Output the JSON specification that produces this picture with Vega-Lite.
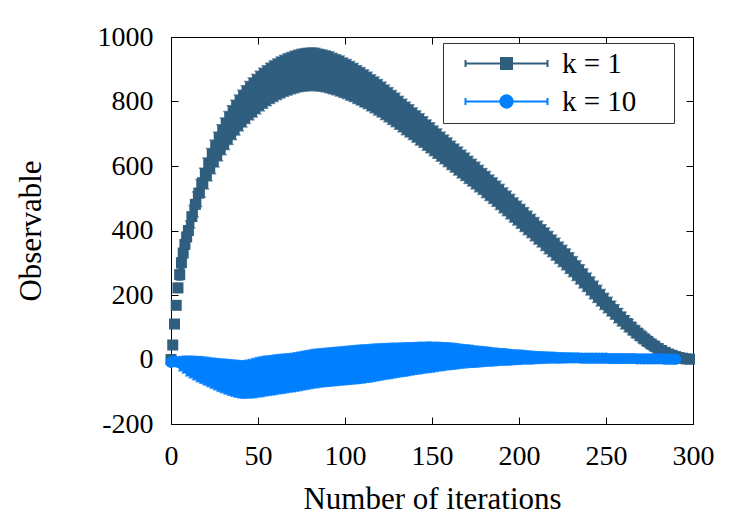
{
"$schema":"https://vega.github.io/schema/vega-lite/v6.json",
"width":522,"height":387,
"autosize":"none",
"padding":{"left":171,"top":37,"right":57,"bottom":101},
"background":"white",
"config":{
 "font":"Liberation Serif",
 "view":{"stroke":"black","strokeWidth":1},
 "axis":{"labelFont":"Liberation Serif","labelFontSize":28,"labelColor":"black","titleFont":"Liberation Serif","titleFontSize":31,"titleFontWeight":"normal","titleColor":"black","grid":false,"domain":false,"tickColor":"black","tickWidth":1,"labelFlush":false,"labelOverlap":false,"labelExpr":"'' + datum.value"},
 "legend":{"orient":"none","legendX":272,"legendY":6,"symbolSize":400,"symbolStrokeWidth":2,"labelFont":"Liberation Serif","labelFontSize":29,"labelColor":"black","labelBaseline":"middle","strokeColor":"#333333","fillColor":"white","padding":6,"rowPadding":8,"symbolOffset":43,"labelOffset":41,"cornerRadius":0,"titleOrient":"right","titlePadding":32,"titleFontSize":10}
},
"datasets":{
"k1":[
{"i":0,"m":0,"lo":-2,"hi":2},{"i":1,"m":45,"lo":40,"hi":50},{"i":2,"m":110,"lo":102,"hi":118},{"i":3,"m":168,"lo":157,"hi":179},{"i":4,"m":222,"lo":208,"hi":236},{"i":5,"m":263,"lo":246,"hi":280},{"i":6,"m":300,"lo":280,"hi":320},{"i":7,"m":330,"lo":307,"hi":353},{"i":8,"m":357,"lo":331,"hi":383},{"i":9,"m":380,"lo":352,"hi":408},{"i":10,"m":400,"lo":370,"hi":430},
{"i":12,"m":443,"lo":408,"hi":478},{"i":14,"m":481,"lo":442,"hi":520},{"i":16,"m":516,"lo":474,"hi":558},{"i":18,"m":548,"lo":503,"hi":593},{"i":20,"m":577,"lo":529,"hi":625},{"i":22,"m":604,"lo":554,"hi":654},{"i":24,"m":628,"lo":576,"hi":680},{"i":26,"m":651,"lo":597,"hi":705},{"i":28,"m":672,"lo":616,"hi":728},{"i":30,"m":692,"lo":635,"hi":749},
{"i":32,"m":710,"lo":651,"hi":769},{"i":34,"m":727,"lo":667,"hi":787},{"i":36,"m":743,"lo":682,"hi":804},{"i":38,"m":758,"lo":696,"hi":820},{"i":40,"m":772,"lo":709,"hi":835},{"i":42,"m":785,"lo":721,"hi":849},{"i":44,"m":797,"lo":732,"hi":862},{"i":46,"m":808,"lo":743,"hi":873},{"i":48,"m":818,"lo":752,"hi":884},{"i":50,"m":828,"lo":762,"hi":894},
{"i":52,"m":837,"lo":771,"hi":903},{"i":54,"m":845,"lo":779,"hi":911},{"i":56,"m":853,"lo":787,"hi":919},{"i":58,"m":860,"lo":794,"hi":926},{"i":60,"m":866,"lo":800,"hi":932},{"i":62,"m":872,"lo":806,"hi":938},{"i":64,"m":877,"lo":811,"hi":943},{"i":66,"m":882,"lo":816,"hi":948},{"i":68,"m":886,"lo":820,"hi":952},{"i":70,"m":890,"lo":824,"hi":956},
{"i":72,"m":893,"lo":827,"hi":959},{"i":74,"m":896,"lo":830,"hi":962},{"i":76,"m":898,"lo":832,"hi":964},{"i":78,"m":899,"lo":833,"hi":965},{"i":80,"m":900,"lo":834,"hi":966},{"i":82,"m":900,"lo":834,"hi":966},{"i":84,"m":899,"lo":833,"hi":965},{"i":86,"m":897,"lo":832,"hi":962},{"i":88,"m":895,"lo":830,"hi":960},{"i":90,"m":892,"lo":827,"hi":957},
{"i":92,"m":889,"lo":824,"hi":954},{"i":94,"m":885,"lo":821,"hi":949},{"i":96,"m":881,"lo":817,"hi":945},{"i":98,"m":877,"lo":813,"hi":941},{"i":100,"m":872,"lo":809,"hi":935},{"i":102,"m":867,"lo":804,"hi":930},{"i":104,"m":862,"lo":800,"hi":924},{"i":106,"m":856,"lo":794,"hi":918},{"i":108,"m":850,"lo":789,"hi":911},{"i":110,"m":844,"lo":783,"hi":905},
{"i":112,"m":838,"lo":778,"hi":898},{"i":114,"m":831,"lo":771,"hi":891},{"i":116,"m":824,"lo":765,"hi":883},{"i":118,"m":817,"lo":758,"hi":876},{"i":120,"m":810,"lo":752,"hi":868},{"i":122,"m":802,"lo":744,"hi":860},{"i":124,"m":794,"lo":737,"hi":851},{"i":126,"m":786,"lo":729,"hi":843},{"i":128,"m":778,"lo":722,"hi":834},{"i":130,"m":770,"lo":714,"hi":826},
{"i":132,"m":761,"lo":706,"hi":816},{"i":134,"m":752,"lo":697,"hi":807},{"i":136,"m":744,"lo":690,"hi":798},{"i":138,"m":736,"lo":682,"hi":790},{"i":140,"m":727,"lo":674,"hi":780},{"i":142,"m":718,"lo":665,"hi":771},{"i":144,"m":710,"lo":658,"hi":762},{"i":146,"m":701,"lo":649,"hi":753},{"i":148,"m":692,"lo":641,"hi":743},{"i":150,"m":683,"lo":632,"hi":734},
{"i":152,"m":674,"lo":624,"hi":724},{"i":154,"m":665,"lo":615,"hi":715},{"i":156,"m":656,"lo":607,"hi":705},{"i":158,"m":647,"lo":598,"hi":696},{"i":160,"m":638,"lo":589,"hi":687},{"i":162,"m":629,"lo":581,"hi":677},{"i":164,"m":620,"lo":572,"hi":668},{"i":166,"m":611,"lo":563,"hi":659},{"i":168,"m":602,"lo":555,"hi":649},{"i":170,"m":593,"lo":546,"hi":640},
{"i":172,"m":584,"lo":538,"hi":630},{"i":174,"m":575,"lo":529,"hi":621},{"i":176,"m":566,"lo":520,"hi":612},{"i":178,"m":557,"lo":512,"hi":602},{"i":180,"m":547,"lo":502,"hi":592},{"i":182,"m":538,"lo":493,"hi":583},{"i":184,"m":528,"lo":484,"hi":572},{"i":186,"m":519,"lo":475,"hi":563},{"i":188,"m":509,"lo":465,"hi":553},{"i":190,"m":499,"lo":455,"hi":543},
{"i":192,"m":489,"lo":446,"hi":532},{"i":194,"m":479,"lo":436,"hi":522},{"i":196,"m":469,"lo":426,"hi":512},{"i":198,"m":459,"lo":417,"hi":501},{"i":200,"m":449,"lo":407,"hi":491},{"i":202,"m":439,"lo":397,"hi":481},{"i":204,"m":429,"lo":387,"hi":471},{"i":206,"m":419,"lo":378,"hi":460},{"i":208,"m":409,"lo":368,"hi":450},{"i":210,"m":399,"lo":358,"hi":440},
{"i":212,"m":389,"lo":349,"hi":429},{"i":214,"m":378,"lo":338,"hi":418},{"i":216,"m":368,"lo":328,"hi":408},{"i":218,"m":358,"lo":319,"hi":397},{"i":220,"m":347,"lo":308,"hi":386},{"i":222,"m":337,"lo":298,"hi":376},{"i":224,"m":326,"lo":288,"hi":364},{"i":226,"m":316,"lo":278,"hi":354},{"i":228,"m":305,"lo":267,"hi":343},{"i":230,"m":294,"lo":257,"hi":331},
{"i":232,"m":282,"lo":245,"hi":319},{"i":234,"m":270,"lo":234,"hi":306},{"i":236,"m":258,"lo":222,"hi":294},{"i":238,"m":246,"lo":211,"hi":281},{"i":240,"m":234,"lo":200,"hi":268},{"i":242,"m":222,"lo":188,"hi":256},{"i":244,"m":210,"lo":177,"hi":243},{"i":246,"m":198,"lo":166,"hi":230},{"i":248,"m":186,"lo":155,"hi":217},{"i":250,"m":175,"lo":145,"hi":205},
{"i":252,"m":164,"lo":135,"hi":193},{"i":254,"m":153,"lo":125,"hi":181},{"i":256,"m":142,"lo":114,"hi":170},{"i":258,"m":131,"lo":104,"hi":158},{"i":260,"m":121,"lo":95,"hi":147},{"i":262,"m":111,"lo":86,"hi":136},{"i":264,"m":101,"lo":77,"hi":125},{"i":266,"m":91,"lo":68,"hi":114},{"i":268,"m":82,"lo":60,"hi":104},{"i":270,"m":73,"lo":52,"hi":94},
{"i":272,"m":64,"lo":44,"hi":84},{"i":274,"m":56,"lo":37,"hi":75},{"i":276,"m":48,"lo":30,"hi":66},{"i":278,"m":41,"lo":24,"hi":58},{"i":280,"m":34,"lo":19,"hi":49},{"i":282,"m":28,"lo":14,"hi":42},{"i":284,"m":22,"lo":10,"hi":34},{"i":286,"m":17,"lo":6,"hi":28},{"i":288,"m":13,"lo":3,"hi":23},{"i":290,"m":9,"lo":1,"hi":17},
{"i":292,"m":6,"lo":0,"hi":12},{"i":294,"m":4,"lo":0,"hi":8},{"i":296,"m":2,"lo":-1,"hi":5},{"i":298,"m":1,"lo":-1,"hi":3}
],
"k10":[
{"i":0,"m":-9,"lo":-10,"hi":-8},{"i":2,"m":-5,"lo":-9,"hi":-1},{"i":4,"m":-8,"lo":-22,"hi":6},{"i":6,"m":-13,"lo":-35,"hi":9},{"i":8,"m":-16,"lo":-42,"hi":10},{"i":10,"m":-20,"lo":-51,"hi":10},{"i":12,"m":-23,"lo":-57,"hi":10},{"i":14,"m":-27,"lo":-63,"hi":9},{"i":16,"m":-30,"lo":-69,"hi":9},{"i":18,"m":-33,"lo":-74,"hi":8},
{"i":20,"m":-36,"lo":-79,"hi":7},{"i":22,"m":-40,"lo":-84,"hi":5},{"i":24,"m":-42,"lo":-89,"hi":4},{"i":26,"m":-45,"lo":-94,"hi":3},{"i":28,"m":-48,"lo":-99,"hi":2},{"i":30,"m":-51,"lo":-103,"hi":1},{"i":32,"m":-54,"lo":-107,"hi":0},{"i":34,"m":-56,"lo":-111,"hi":-1},{"i":36,"m":-58,"lo":-114,"hi":-2},{"i":38,"m":-60,"lo":-117,"hi":-3},
{"i":40,"m":-62,"lo":-119,"hi":-4},{"i":42,"m":-62,"lo":-120,"hi":-4},{"i":44,"m":-61,"lo":-119,"hi":-2},{"i":46,"m":-60,"lo":-119,"hi":0},{"i":48,"m":-58,"lo":-118,"hi":3},{"i":50,"m":-55,"lo":-116,"hi":6},{"i":52,"m":-54,"lo":-115,"hi":8},{"i":54,"m":-52,"lo":-113,"hi":10},{"i":56,"m":-50,"lo":-111,"hi":11},{"i":58,"m":-49,"lo":-110,"hi":12},
{"i":60,"m":-47,"lo":-108,"hi":14},{"i":62,"m":-46,"lo":-106,"hi":15},{"i":64,"m":-45,"lo":-105,"hi":16},{"i":66,"m":-43,"lo":-103,"hi":17},{"i":68,"m":-42,"lo":-101,"hi":18},{"i":70,"m":-41,"lo":-100,"hi":19},{"i":72,"m":-39,"lo":-98,"hi":21},{"i":74,"m":-37,"lo":-96,"hi":23},{"i":76,"m":-35,"lo":-94,"hi":25},{"i":78,"m":-33,"lo":-92,"hi":27},
{"i":80,"m":-31,"lo":-90,"hi":29},{"i":82,"m":-29,"lo":-88,"hi":31},{"i":84,"m":-28,"lo":-87,"hi":32},{"i":86,"m":-26,"lo":-85,"hi":33},{"i":88,"m":-25,"lo":-84,"hi":34},{"i":90,"m":-24,"lo":-83,"hi":35},{"i":92,"m":-23,"lo":-82,"hi":36},{"i":94,"m":-22,"lo":-81,"hi":37},{"i":96,"m":-21,"lo":-80,"hi":38},{"i":98,"m":-20,"lo":-79,"hi":39},
{"i":100,"m":-19,"lo":-78,"hi":40},{"i":102,"m":-18,"lo":-77,"hi":41},{"i":104,"m":-17,"lo":-76,"hi":42},{"i":106,"m":-16,"lo":-75,"hi":43},{"i":108,"m":-15,"lo":-74,"hi":44},{"i":110,"m":-14,"lo":-73,"hi":45},{"i":112,"m":-13,"lo":-71,"hi":45},{"i":114,"m":-12,"lo":-70,"hi":46},{"i":116,"m":-11,"lo":-68,"hi":47},{"i":118,"m":-9,"lo":-66,"hi":48},
{"i":120,"m":-8,"lo":-64,"hi":48},{"i":122,"m":-7,"lo":-62,"hi":49},{"i":124,"m":-6,"lo":-60,"hi":49},{"i":126,"m":-5,"lo":-59,"hi":50},{"i":128,"m":-4,"lo":-57,"hi":50},{"i":130,"m":-3,"lo":-55,"hi":50},{"i":132,"m":-1,"lo":-53,"hi":51},{"i":134,"m":0,"lo":-52,"hi":51},{"i":136,"m":1,"lo":-50,"hi":52},{"i":138,"m":2,"lo":-48,"hi":52},
{"i":140,"m":3,"lo":-46,"hi":52},{"i":142,"m":4,"lo":-45,"hi":53},{"i":144,"m":5,"lo":-43,"hi":53},{"i":146,"m":6,"lo":-41,"hi":53},{"i":148,"m":7,"lo":-40,"hi":54},{"i":150,"m":7,"lo":-39,"hi":53},{"i":152,"m":8,"lo":-37,"hi":53},{"i":154,"m":9,"lo":-35,"hi":53},{"i":156,"m":9,"lo":-34,"hi":52},{"i":158,"m":10,"lo":-32,"hi":52},
{"i":160,"m":10,"lo":-31,"hi":51},{"i":162,"m":10,"lo":-30,"hi":50},{"i":164,"m":10,"lo":-29,"hi":49},{"i":166,"m":10,"lo":-27,"hi":47},{"i":168,"m":10,"lo":-26,"hi":46},{"i":170,"m":10,"lo":-25,"hi":45},{"i":172,"m":10,"lo":-24,"hi":44},{"i":174,"m":9,"lo":-24,"hi":42},{"i":176,"m":9,"lo":-23,"hi":41},{"i":178,"m":9,"lo":-22,"hi":40},
{"i":180,"m":9,"lo":-21,"hi":39},{"i":182,"m":9,"lo":-20,"hi":38},{"i":184,"m":8,"lo":-20,"hi":36},{"i":186,"m":8,"lo":-19,"hi":35},{"i":188,"m":8,"lo":-18,"hi":34},{"i":190,"m":8,"lo":-17,"hi":33},{"i":192,"m":8,"lo":-17,"hi":33},{"i":194,"m":7,"lo":-17,"hi":31},{"i":196,"m":7,"lo":-16,"hi":30},{"i":198,"m":7,"lo":-15,"hi":29},
{"i":200,"m":7,"lo":-15,"hi":29},{"i":202,"m":7,"lo":-14,"hi":28},{"i":204,"m":7,"lo":-13,"hi":27},{"i":206,"m":6,"lo":-14,"hi":26},{"i":208,"m":6,"lo":-13,"hi":25},{"i":210,"m":6,"lo":-12,"hi":24},{"i":212,"m":6,"lo":-12,"hi":24},{"i":214,"m":6,"lo":-11,"hi":23},{"i":216,"m":6,"lo":-11,"hi":23},{"i":218,"m":6,"lo":-10,"hi":22},
{"i":220,"m":6,"lo":-10,"hi":22},{"i":222,"m":5,"lo":-10,"hi":20},{"i":224,"m":5,"lo":-10,"hi":20},{"i":226,"m":5,"lo":-9,"hi":19},{"i":228,"m":5,"lo":-9,"hi":19},{"i":230,"m":5,"lo":-8,"hi":18},{"i":232,"m":5,"lo":-8,"hi":18},{"i":234,"m":5,"lo":-7,"hi":17},{"i":236,"m":4,"lo":-8,"hi":16},{"i":238,"m":4,"lo":-7,"hi":15},
{"i":240,"m":4,"lo":-7,"hi":15},{"i":242,"m":4,"lo":-6,"hi":14},{"i":244,"m":4,"lo":-6,"hi":14},{"i":246,"m":4,"lo":-5,"hi":13},{"i":248,"m":4,"lo":-5,"hi":13},{"i":250,"m":4,"lo":-4,"hi":12},{"i":252,"m":3,"lo":-5,"hi":11},{"i":254,"m":3,"lo":-4,"hi":10},{"i":256,"m":3,"lo":-4,"hi":10},{"i":258,"m":3,"lo":-3,"hi":9},
{"i":260,"m":3,"lo":-3,"hi":9},{"i":262,"m":3,"lo":-2,"hi":8},{"i":264,"m":3,"lo":-2,"hi":8},{"i":266,"m":3,"lo":-2,"hi":8},{"i":268,"m":2,"lo":-2,"hi":6},{"i":270,"m":2,"lo":-2,"hi":6},{"i":272,"m":2,"lo":-1,"hi":5},{"i":274,"m":2,"lo":-1,"hi":5},{"i":276,"m":2,"lo":-1,"hi":5},{"i":278,"m":2,"lo":0,"hi":4},
{"i":280,"m":2,"lo":0,"hi":4},{"i":282,"m":2,"lo":0,"hi":4},{"i":284,"m":1,"lo":0,"hi":2},{"i":286,"m":1,"lo":0,"hi":2},{"i":288,"m":1,"lo":0,"hi":2},{"i":290,"m":1,"lo":0,"hi":2}
]
},
"resolve":{"axis":{"x":"independent","y":"independent"}},
"layer":[
{"data":{"name":"k1"},
 "mark":{"type":"rule","color":"#2f5e7f","strokeWidth":5},
 "encoding":{
  "x":{"field":"i","type":"quantitative","scale":{"domain":[0,300],"nice":false,"zero":false},"axis":{"orient":"bottom","values":[0,50,100,150,200,250,300],"ticks":false,"labelPadding":18,"labelDx":4,"title":"Number of iterations","titlePadding":14}},
  "y":{"field":"lo","type":"quantitative","scale":{"domain":[-200,1000],"nice":false,"zero":false},"axis":{"orient":"left","values":[-200,0,200,400,600,800,1000],"ticks":false,"labelPadding":18,"title":"Observable","titlePadding":50}},
  "y2":{"field":"hi"}
 }},
{"data":{"name":"k1"},
 "transform":[{"fold":["lo","hi"],"as":["end","v"]}],
 "mark":{"type":"tick","orient":"horizontal","color":"#2f5e7f","size":7,"thickness":1.5},
 "encoding":{
  "x":{"field":"i","type":"quantitative","scale":{"domain":[0,300],"nice":false,"zero":false},"axis":{"orient":"bottom","offset":-7,"tickSize":7,"labels":false,"title":null,"values":[0,50,100,150,200,250,300]}},
  "y":{"field":"v","type":"quantitative","scale":{"domain":[-200,1000],"nice":false,"zero":false},"axis":{"orient":"left","offset":-7,"tickSize":7,"labels":false,"title":null,"values":[-200,0,200,400,600,800,1000]}}
 }},
{"data":{"name":"k1"},
 "mark":{"type":"square","color":"#2f5e7f","size":121,"opacity":1},
 "encoding":{
  "x":{"field":"i","type":"quantitative","scale":{"domain":[0,300],"nice":false,"zero":false},"axis":{"orient":"top","offset":-7,"tickSize":7,"labels":false,"title":null,"values":[0,50,100,150,200,250,300]}},
  "y":{"field":"m","type":"quantitative","scale":{"domain":[-200,1000],"nice":false,"zero":false},"axis":{"orient":"right","offset":-7,"tickSize":7,"labels":false,"title":null,"values":[-200,0,200,400,600,800,1000]}}
 }},
{"data":{"name":"k10"},
 "mark":{"type":"rule","color":"#0080ff","strokeWidth":5},
 "encoding":{
  "x":{"field":"i","type":"quantitative","scale":{"domain":[0,300],"nice":false,"zero":false},"axis":null},
  "y":{"field":"lo","type":"quantitative","scale":{"domain":[-200,1000],"nice":false,"zero":false},"axis":null},
  "y2":{"field":"hi"}
 }},
{"data":{"name":"k10"},
 "transform":[{"fold":["lo","hi"],"as":["end","v"]}],
 "mark":{"type":"tick","orient":"horizontal","color":"#0080ff","size":7,"thickness":1.5},
 "encoding":{
  "x":{"field":"i","type":"quantitative","scale":{"domain":[0,300],"nice":false,"zero":false},"axis":null},
  "y":{"field":"v","type":"quantitative","scale":{"domain":[-200,1000],"nice":false,"zero":false},"axis":null}
 }},
{"data":{"name":"k10"},
 "mark":{"type":"circle","color":"#0080ff","size":125,"opacity":1},
 "encoding":{
  "x":{"field":"i","type":"quantitative","scale":{"domain":[0,300],"nice":false,"zero":false},"axis":null},
  "y":{"field":"m","type":"quantitative","scale":{"domain":[-200,1000],"nice":false,"zero":false},"axis":null}
 }},
{"data":{"values":[{"k":"k = 1"},{"k":"k = 10"}]},
 "transform":[{"filter":"datum.k == 'none'"}],
 "mark":{"type":"point","filled":true,"strokeWidth":2,"opacity":1},
 "encoding":{
  "shape":{"field":"k","type":"nominal","title":" ","scale":{"domain":["k = 1","k = 10"],"range":["M-4.1,0H4.1M-4.1,-0.35V0.35M4.1,-0.35V0.35M-0.55,-0.55H0.55V0.55H-0.55Z","M-4.1,0H4.1M-4.1,-0.35V0.35M4.1,-0.35V0.35M-0.62,0A0.62,0.62,0,1,1,0.62,0A0.62,0.62,0,1,1,-0.62,0Z"]}},
  "fill":{"field":"k","type":"nominal","title":" ","scale":{"domain":["k = 1","k = 10"],"range":["#2f5e7f","#0080ff"]}},
  "stroke":{"field":"k","type":"nominal","title":" ","scale":{"domain":["k = 1","k = 10"],"range":["#2f5e7f","#0080ff"]}}
 }}
]
}
